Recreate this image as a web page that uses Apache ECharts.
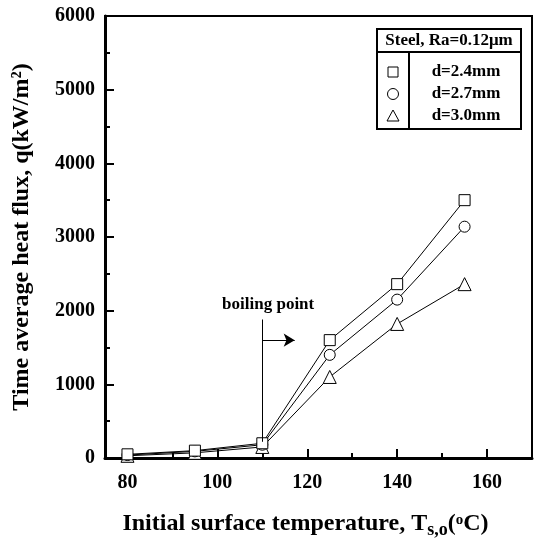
<!DOCTYPE html>
<html>
<head>
    <meta charset="utf-8" />
    <title>Time average heat flux</title>
    <script src="https://cdn.jsdelivr.net/npm/echarts@6/dist/echarts.min.js"></script>
    <style>
        html, body { margin: 0; padding: 0; background: #fff; }
        #main { width: 534px; height: 544px; }
    </style>
</head>
<body>
<div id="main"></div>
<script>
    // data
    let temps = [80, 95, 110, 125, 140, 155]
    let flux24 = [50, 100, 200, 1600, 2360, 3500]
    let flux27 = [40, 90, 180, 1400, 2150, 3140]
    let flux30 = [30, 70, 150, 1100, 1820, 2360]
    let seriesNames = ['d=2.4mm', 'd=2.7mm', 'd=3.0mm']
    let seriesSymbols = ['rect', 'circle', 'triangle']
    let xMajorTicks = [80, 100, 120, 140, 160]
    let xMinorTicks = [90, 110, 130, 150]
    let legendTitle = 'Steel, Ra=0.12\u03bcm'

    let font = '"Liberation Serif", "Times New Roman", serif'
    let chart = echarts.init(document.getElementById('main'), null, {renderer: 'canvas'})

    function pairs(ys) {
        return temps.map(function (t, i) { return [t, ys[i]] })
    }

    let allFlux = [flux24, flux27, flux30]
    let series = allFlux.map(function (ys, i) {
        return {
            name: seriesNames[i],
            type: 'line',
            data: pairs(ys),
            symbol: seriesSymbols[i],
            symbolSize: i === 2 ? 13 : 11,
            showSymbol: true,
            silent: true,
            xAxisIndex: 0,
            lineStyle: {color: '#000', width: 1},
            itemStyle: {color: '#fff', borderColor: '#000', borderWidth: 1},
            z: 3 - i
        }
    })

    // boiling point marker
    series[0].markLine = {
        silent: true,
        symbol: ['none', 'none'],
        label: {show: false},
        lineStyle: {color: '#000', width: 1, type: 'solid'},
        data: [
            [{coord: [110, 1880]}, {coord: [110, 220]}],
            [{coord: [110, 1600]}, {coord: [117.2, 1600], symbol: 'arrow', symbolSize: [10, 11]}]
        ]
    }
    series[0].markPoint = {
        silent: true,
        symbolSize: 0,
        label: {
            show: true, position: 'inside', formatter: 'boiling point',
            color: '#000', fontFamily: font, fontWeight: 'bold', fontSize: 17
        },
        data: [{coord: [111.3, 2080]}]
    }

    let legendGraphics = [
        {type: 'rect', shape: {x: 377, y: 29, width: 144, height: 100},
            style: {fill: '#fff', stroke: '#000', lineWidth: 2}, z: 10},
        {type: 'line', shape: {x1: 377, y1: 52, x2: 521, y2: 52},
            style: {stroke: '#000', lineWidth: 2}, z: 11},
        {type: 'line', shape: {x1: 409, y1: 52, x2: 409, y2: 129},
            style: {stroke: '#000', lineWidth: 2}, z: 11},
        {type: 'text', x: 449, y: 41, z: 11,
            style: {text: legendTitle, font: 'bold 17px ' + font, fill: '#000', align: 'center', verticalAlign: 'middle'}}
    ]
    let rowYs = [72, 94, 116]
    seriesNames.forEach(function (n, i) {
        legendGraphics.push({type: 'text', x: 466, y: rowYs[i], z: 11,
            style: {text: n, font: 'bold 17px ' + font, fill: '#000', align: 'center', verticalAlign: 'middle'}})
    })
    legendGraphics.push({type: 'rect', shape: {x: 388, y: rowYs[0] - 5, width: 10, height: 10},
        style: {fill: '#fff', stroke: '#000', lineWidth: 1}, z: 11})
    legendGraphics.push({type: 'circle', shape: {cx: 393, cy: rowYs[1], r: 5.5},
        style: {fill: '#fff', stroke: '#000', lineWidth: 1}, z: 11})
    legendGraphics.push({type: 'polygon', shape: {points: [[393, rowYs[2] - 6], [387, rowYs[2] + 5], [399, rowYs[2] + 5]]},
        style: {fill: '#fff', stroke: '#000', lineWidth: 1}, z: 11})

    let labelStyle = {color: '#000', fontFamily: font, fontWeight: 'bold', fontSize: 20}

    chart.setOption({
        animation: false,
        backgroundColor: '#fff',
        grid: {left: 105, right: 2, top: 16, bottom: 85, show: true, borderColor: '#000', borderWidth: 2},
        xAxis: [
            {
                type: 'value', min: 75, max: 170, position: 'bottom',
                name: '{a|Initial surface temperature, T}{s|s,o}{a|(}{o|o}{a|C)}',
                nameLocation: 'middle', nameGap: 51,
                nameTextStyle: {
                    padding: [0, 26, 0, 0],
                    rich: {
                        a: {fontFamily: font, fontWeight: 'bold', fontSize: 24, color: '#000', lineHeight: 30, verticalAlign: 'middle'},
                        s: {fontFamily: font, fontWeight: 'bold', fontSize: 18, color: '#000', lineHeight: 18, verticalAlign: 'bottom'},
                        o: {fontFamily: font, fontWeight: 'bold', fontSize: 15, color: '#000', lineHeight: 15, verticalAlign: 'top', padding: [4, 0, 0, 0]}
                    }
                },
                axisLine: {show: true, onZero: false, lineStyle: {color: '#000', width: 3}},
                axisTick: {show: true, inside: true, length: 9, customValues: xMajorTicks, lineStyle: {color: '#000', width: 2}},
                axisLabel: Object.assign({customValues: xMajorTicks, margin: 15}, labelStyle),
                splitLine: {show: false}
            },
            {
                type: 'value', min: 75, max: 170, position: 'bottom',
                axisLine: {show: false},
                axisTick: {show: true, inside: true, length: 5, customValues: xMinorTicks, lineStyle: {color: '#000', width: 2}},
                axisLabel: {show: false},
                splitLine: {show: false}
            }
        ],
        yAxis: {
            type: 'value', min: 0, max: 6000, interval: 1000,
            name: 'Time average heat flux, q(kW/m\u00b2)',
            nameLocation: 'middle', nameGap: 71,
            nameTextStyle: {fontFamily: font, fontWeight: 'bold', fontSize: 24, color: '#000'},
            axisLine: {show: true, lineStyle: {color: '#000', width: 3}},
            axisTick: {show: true, inside: true, length: 9, lineStyle: {color: '#000', width: 2}},
            minorTick: {show: true, splitNumber: 2, length: 5, lineStyle: {color: '#000', width: 2}},
            axisLabel: Object.assign({margin: 10, formatter: function (v) { return String(v) }}, labelStyle),
            splitLine: {show: false}
        },
        graphic: legendGraphics,
        series: series
    })
</script>
</body>
</html>
